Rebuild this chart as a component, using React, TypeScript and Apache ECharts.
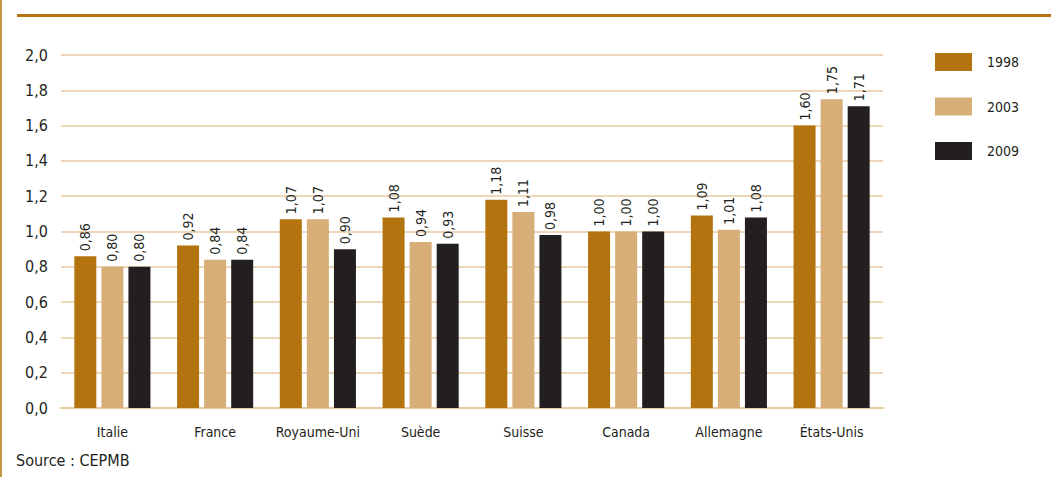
import React, { useEffect, useRef } from "react";
import * as echarts from "echarts";

const categories = ["Italie", "France", "Royaume-Uni", "Suède", "Suisse", "Canada", "Allemagne", "États-Unis"];
const years = ["1998", "2003", "2009"];
const values1998 = [0.86, 0.92, 1.07, 1.08, 1.18, 1.0, 1.09, 1.6];
const values2003 = [0.8, 0.84, 1.07, 0.94, 1.11, 1.0, 1.01, 1.75];
const values2009 = [0.8, 0.84, 0.9, 0.93, 0.98, 1.0, 1.08, 1.71];
const colors = ["#B3730E", "#D8AE78", "#231F20"];
const sourceText = "Source : CEPMB";

const FONT = "'DejaVu Sans Condensed', 'Liberation Sans Narrow', sans-serif";
const INK = "#231F20";
const GOLD = "#B3730E";
const GRID = "#E9C9A1";

const comma = (v: number, d: number) => v.toFixed(d).replace(".", ",");

export default function App() {
  const ref = useRef<HTMLDivElement>(null);

  useEffect(() => {
    if (!ref.current) return;
    const chart = echarts.init(ref.current, undefined, { renderer: "svg" });
    const seriesData = [values1998, values2003, values2009];

    chart.setOption({
      animation: false,
      backgroundColor: "#ffffff",
      textStyle: { fontFamily: FONT },
      grid: { left: 61, right: 1051 - 883, top: 55, bottom: 477 - 408, containLabel: false },
      legend: {
        orient: "vertical",
        left: 930,
        top: 48,
        itemWidth: 37,
        itemHeight: 18,
        itemGap: 26.5,
        icon: "rect",
        data: years,
        textStyle: { fontFamily: FONT, fontSize: 14, color: INK, padding: [0, 0, 0, 10] },
      },
      xAxis: {
        type: "category",
        data: categories,
        axisLine: { show: true, lineStyle: { color: GRID, width: 2 } },
        axisTick: { show: false },
        axisLabel: { interval: 0, fontFamily: FONT, fontSize: 14, color: INK, margin: 17 },
      },
      yAxis: {
        type: "value",
        min: 0,
        max: 2,
        interval: 0.2,
        axisLine: { show: false },
        axisTick: { show: false },
        splitLine: { lineStyle: { color: GRID, width: 1.5 } },
        axisLabel: {
          fontFamily: FONT,
          fontSize: 16,
          color: INK,
          margin: 13,
          formatter: (v: number) => comma(v, 1),
        },
      },
      series: years.map((y, i) => ({
        name: y,
        type: "bar",
        data: seriesData[i],
        barWidth: 22,
        barGap: "23%",
        itemStyle: { color: colors[i] },
        label: {
          show: true,
          position: "top",
          rotate: 90,
          align: "left",
          verticalAlign: "middle",
          distance: 5,
          fontFamily: FONT,
          fontSize: 14,
          color: INK,
          formatter: (p: any) => comma(p.value, 2),
        },
      })),
      graphic: [
        { type: "line", shape: { x1: 1, y1: 0, x2: 1, y2: 477 }, style: { stroke: GOLD, lineWidth: 1.5 } },
        { type: "line", shape: { x1: 17, y1: 15.5, x2: 1051, y2: 15.5 }, style: { stroke: GOLD, lineWidth: 3 } },
        {
          type: "text",
          left: 16,
          top: 452,
          style: { text: sourceText, fontFamily: FONT, fontSize: 16, fill: INK },
        },
      ],
    });

    return () => chart.dispose();
  }, []);

  return (
    <div
      ref={ref}
      style={{ position: "absolute", left: 0, top: 0, width: 1051, height: 477 }}
    />
  );
}
